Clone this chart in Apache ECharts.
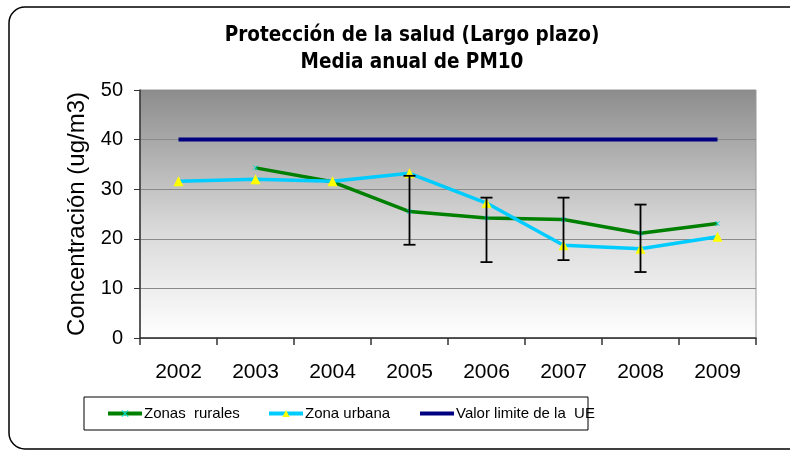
<!DOCTYPE html>
<html>
<head>
<meta charset="utf-8">
<script src="https://cdn.jsdelivr.net/npm/echarts@6/dist/echarts.min.js"></script>
<style>
html,body{margin:0;padding:0;background:#fff;}
#chart{width:790px;height:450px;}
</style>
</head>
<body>
<div id="chart"></div>
<script>
// datos
var years = ['2002','2003','2004','2005','2006','2007','2008','2009'];
var rurales = [null, 34.3, 31.5, 25.5, 24.2, 23.9, 21.1, 23.1];
var urbana = [31.6, 32.0, 31.6, 33.2, 27.2, 18.7, 18.0, 20.4];
var limite = [40, 40, 40, 40, 40, 40, 40, 40];
// barras de error: minimo y maximo por año
var errLow = [null, null, null, 18.8, 15.3, 15.7, 13.3, null];
var errHigh = [null, null, null, 32.7, 28.3, 28.3, 26.9, null];
var serieNames = ['Zonas  rurales', 'Zona urbana', 'Valor limite de la  UE'];

var errData = [];
for (var i = 0; i < years.length; i++) {
	if (errLow[i] != null) errData.push([i, errLow[i], errHigh[i]]);
}

var condensed = '"DejaVu Sans Condensed", "DejaVu Sans", sans-serif';
var xMark = 'path://M0,1L1,0L5,4L9,0L10,1L6,5L10,9L9,10L5,6L1,10L0,9L4,5Z';

// una leyenda por serie, para colocar cada una donde esta en el original
var legendLeft = [106, 267, 418];
var legends = [];
for (var k = 0; k < serieNames.length; k++) {
	var item = {name: serieNames[k]};
	if (k == 2) item.itemStyle = {opacity: 0};
	legends.push({
		left: legendLeft[k],
		top: 406,
		padding: 0,
		itemWidth: 34,
		itemHeight: 9,
		lineStyle: {width: 4},
		textStyle: {fontFamily: 'Liberation Sans', fontSize: 15, color: '#000', padding: [0, 0, 0, -3]},
		data: [item]
	});
}

var chart = echarts.init(document.getElementById('chart'));
var option = {
	animation: false,
	graphic: [{
		type: 'rect',
		shape: {x: 9, y: 7, width: 800, height: 442, r: 16},
		style: {fill: 'none', stroke: '#000', lineWidth: 1.5},
		z: -10
	}, {
		type: 'rect',
		shape: {x: 84, y: 397, width: 504, height: 33},
		style: {fill: '#fff', stroke: '#000', lineWidth: 1},
		z: -5
	}],
	title: {
		text: 'Protección de la salud (Largo plazo)\nMedia anual de PM10',
		left: 407,
		textAlign: 'center',
		top: 17,
		textStyle: {
			fontFamily: condensed,
			fontSize: 20.5,
			fontWeight: 'bold',
			color: '#000',
			lineHeight: 27
		}
	},
	legend: legends,
	grid: {
		left: 140,
		right: 34,
		top: 90,
		bottom: 112,
		show: true,
		borderColor: '#999',
		borderWidth: 1,
		backgroundColor: new echarts.graphic.LinearGradient(0, 0, 0, 1, [
			{offset: 0, color: '#8c8c8c'},
			{offset: 0.55, color: '#d8d8d8'},
			{offset: 1, color: '#ffffff'}
		])
	},
	xAxis: {
		type: 'category',
		data: years,
		boundaryGap: true,
		axisLine: {lineStyle: {color: '#333', width: 1.5}},
		axisTick: {show: true, length: 7, lineStyle: {color: '#333', width: 1.5}},
		axisLabel: {fontFamily: 'Liberation Sans', fontSize: 21, color: '#000', margin: 24},
		splitLine: {show: false}
	},
	yAxis: {
		type: 'value',
		min: 0,
		max: 50,
		interval: 10,
		name: 'Concentración (ug/m3)',
		nameLocation: 'middle',
		nameGap: 48,
		nameTextStyle: {fontFamily: 'Liberation Sans', fontSize: 24, color: '#000'},
		axisLine: {show: true, lineStyle: {color: '#333', width: 1.5}},
		axisTick: {show: true, length: 6, lineStyle: {color: '#333', width: 1}},
		axisLabel: {fontFamily: 'Liberation Sans', fontSize: 20, color: '#000', margin: 17},
		splitLine: {lineStyle: {color: '#8a8a8a', width: 1}}
	},
	series: [{
		name: serieNames[2],
		type: 'line',
		data: limite,
		showSymbol: false,
		symbol: 'none',
		color: '#000080',
		lineStyle: {color: '#000080', width: 4},
		z: 2
	}, {
		name: serieNames[0],
		type: 'line',
		data: rurales,
		symbol: xMark,
		symbolSize: 5,
		color: '#008000',
		itemStyle: {color: '#00e0e0'},
		lineStyle: {color: '#008000', width: 3.5},
		z: 3
	}, {
		name: serieNames[1],
		type: 'line',
		data: urbana,
		symbol: 'triangle',
		symbolSize: 10,
		color: '#00ccff',
		itemStyle: {color: '#ffff00'},
		lineStyle: {color: '#00ccff', width: 3.5},
		z: 4
	}, {
		name: 'error',
		type: 'custom',
		data: errData,
		z: 5,
		renderItem: function (params, api) {
			var lo = api.coord([api.value(0), api.value(1)]);
			var hi = api.coord([api.value(0), api.value(2)]);
			var w = 6;
			var st = {stroke: '#000', lineWidth: 1.8};
			return {
				type: 'group',
				children: [
					{type: 'line', shape: {x1: lo[0], y1: lo[1], x2: hi[0], y2: hi[1]}, style: st},
					{type: 'line', shape: {x1: lo[0] - w, y1: lo[1], x2: lo[0] + w, y2: lo[1]}, style: st},
					{type: 'line', shape: {x1: hi[0] - w, y1: hi[1], x2: hi[0] + w, y2: hi[1]}, style: st}
				]
			};
		}
	}]
};
chart.setOption(option);
</script>
</body>
</html>
